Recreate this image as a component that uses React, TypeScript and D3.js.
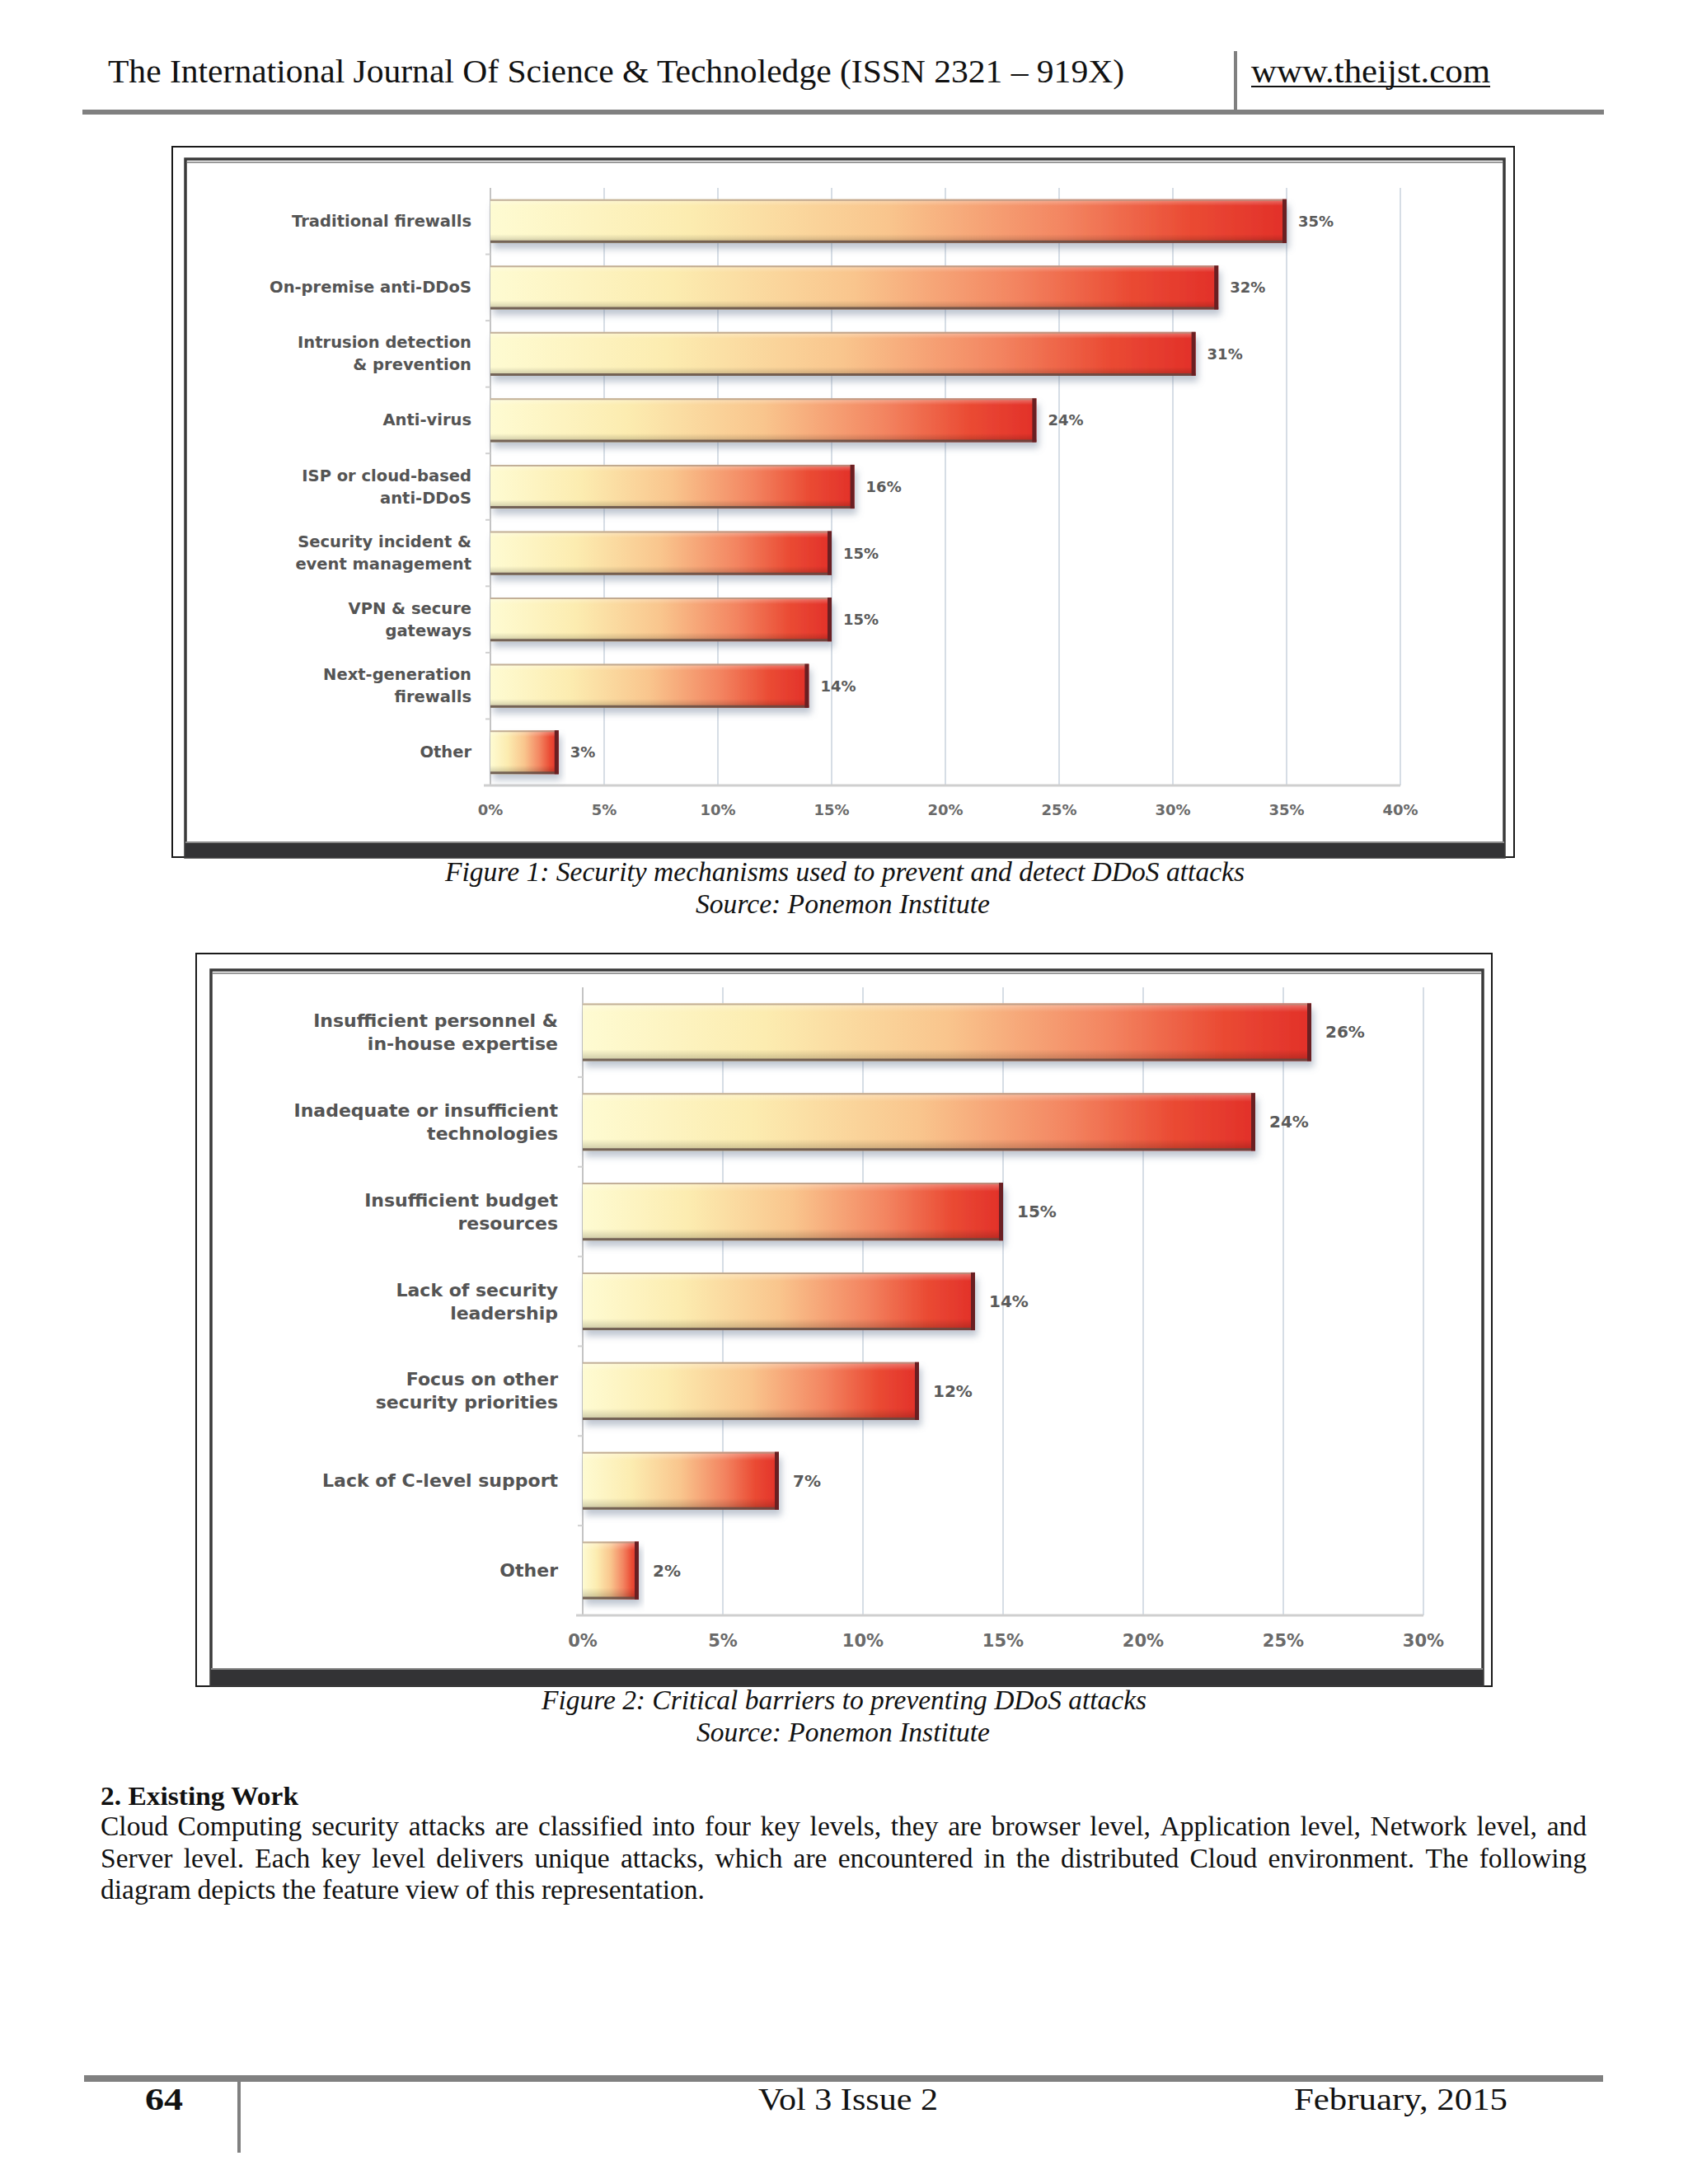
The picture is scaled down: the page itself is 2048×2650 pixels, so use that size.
import React from "react";
import * as d3 from "d3";

// ---------- data ----------
const fig1Categories = [
  "Traditional firewalls",
  "On-premise anti-DDoS",
  "Intrusion detection\n& prevention",
  "Anti-virus",
  "ISP or cloud-based\nanti-DDoS",
  "Security incident &\nevent management",
  "VPN & secure\ngateways",
  "Next-generation\nfirewalls",
  "Other",
];
const fig1Values = [35, 32, 31, 24, 16, 15, 15, 14, 3];
const fig1Ticks = [0, 5, 10, 15, 20, 25, 30, 35, 40];

const fig2Categories = [
  "Insufficient personnel &\nin-house expertise",
  "Inadequate or insufficient\ntechnologies",
  "Insufficient budget\nresources",
  "Lack of security\nleadership",
  "Focus on other\nsecurity priorities",
  "Lack of C-level support",
  "Other",
];
const fig2Values = [26, 24, 15, 14, 12, 7, 2];
const fig2Ticks = [0, 5, 10, 15, 20, 25, 30];

const headerTitle = "The International Journal Of Science & Technoledge  (ISSN  2321 \u2013 919X)";
const headerUrl = "www.theijst.com";
const caption1 = "Figure 1: Security mechanisms used to prevent and detect DDoS attacks";
const caption2 = "Figure 2: Critical barriers to preventing DDoS attacks";
const sourceText = "Source: Ponemon Institute";
const sectionHeading = "2. Existing Work";
const paragraphLines = [
  "Cloud Computing security attacks are classified into four key levels, they are browser level, Application level, Network level, and",
  "Server level. Each key level delivers unique attacks, which are encountered in the distributed Cloud environment. The following",
  "diagram depicts the feature view of this representation.",
];
const footerPage = "64";
const footerIssue = "Vol 3  Issue 2";
const footerDate = "February, 2015";

const SERIF = "'Liberation Serif', 'Times New Roman', serif";

let measureCtx: CanvasRenderingContext2D | null = null;
function measure(text: string, font: string, size: number): number {
  try {
    if (!measureCtx && typeof document !== "undefined") {
      measureCtx = document.createElement("canvas").getContext("2d");
    }
    if (measureCtx) {
      measureCtx.font = `${size}px ${font}`;
      return measureCtx.measureText(text).width;
    }
  } catch (e) {
    /* ignore */
  }
  return text.length * size * 0.44;
}

function JustifiedLine(props: { text: string; x: number; y: number; width: number; size: number }) {
  const words = props.text.split(" ");
  const widths = words.map((w) => measure(w, SERIF, props.size));
  const total = widths.reduce((a, b) => a + b, 0);
  const gap = words.length > 1 ? (props.width - total) / (words.length - 1) : 0;
  let cx = props.x;
  const xs = widths.map((w) => {
    const v = cx;
    cx += w + gap;
    return v;
  });
  return (
    <text y={props.y} fontFamily={SERIF} fontSize={props.size} fill="#111">
      {words.map((w, i) => (
        <tspan key={i} x={xs[i]}>
          {w}
        </tspan>
      ))}
    </text>
  );
}

type ChartProps = {
  id: string;
  cats: string[];
  vals: number[];
  ticks: number[];
  xMax: number;
  xRange: [number, number];
  yRange: [number, number];
  padIn: number;
  padOut: number;
  labelRight: number;
  labelSize: number;
  lineH: number;
  valueSize: number;
  valueGap: number;
  tickSize: number;
  tickY: number;
};

function BarChart(p: ChartProps) {
  const x = d3.scaleLinear().domain([0, p.xMax]).range(p.xRange);
  const y = d3
    .scaleBand<string>()
    .domain(p.cats)
    .range(p.yRange)
    .paddingInner(p.padIn)
    .paddingOuter(p.padOut);
  const bw = y.bandwidth();
  const font = "'DejaVu Sans', sans-serif";
  return (
    <g>
      <defs>
        <linearGradient id={`${p.id}-grad`} x1="0" y1="0" x2="1" y2="0">
          <stop offset="0" stopColor="#fefbd2" />
          <stop offset="0.25" stopColor="#fcecb0" />
          <stop offset="0.5" stopColor="#f9c58d" />
          <stop offset="0.72" stopColor="#f38561" />
          <stop offset="0.88" stopColor="#ea4a33" />
          <stop offset="1" stopColor="#e2302a" />
        </linearGradient>
        <linearGradient id={`${p.id}-shade`} x1="0" y1="0" x2="0" y2="1">
          <stop offset="0" stopColor="#fff" stopOpacity="0.35" />
          <stop offset="0.15" stopColor="#fff" stopOpacity="0" />
          <stop offset="0.8" stopColor="#000" stopOpacity="0" />
          <stop offset="1" stopColor="#000" stopOpacity="0.22" />
        </linearGradient>
        <filter id={`${p.id}-sh`} x="-5%" y="-30%" width="115%" height="190%">
          <feGaussianBlur in="SourceAlpha" stdDeviation="4" />
          <feOffset dx="3" dy="7" result="o" />
          <feFlood floodColor="#708098" floodOpacity="0.45" />
          <feComposite in2="o" operator="in" />
          <feMerge>
            <feMergeNode />
            <feMergeNode in="SourceGraphic" />
          </feMerge>
        </filter>
      </defs>
      {p.ticks.map((t) => (
        <line
          key={`g${t}`}
          x1={x(t)}
          x2={x(t)}
          y1={p.yRange[0]}
          y2={p.yRange[1]}
          stroke={t === 0 ? "#c4c4c4" : "#d6dde5"}
          strokeWidth={2}
        />
      ))}
      {p.cats.map((c, i) => {
        const yy = (y(c) as number) - (y.step() - bw) / 2;
        return i === 0 ? null : (
          <line key={`yt${i}`} x1={x(0) - 6} x2={x(0)} y1={yy} y2={yy} stroke="#d0d0d0" strokeWidth={2} />
        );
      })}
      <line x1={x(0) - 8} x2={x(p.xMax)} y1={p.yRange[1]} y2={p.yRange[1]} stroke="#cfcfcf" strokeWidth={3} />
      {p.cats.map((c, i) => {
        const y0 = y(c) as number;
        const x0 = x(0);
        const w = x(p.vals[i]) - x0;
        return (
          <g key={`b${i}`}>
            <rect x={x0} y={y0} width={w} height={bw} fill={`url(#${p.id}-grad)`} filter={`url(#${p.id}-sh)`} />
            <rect x={x0} y={y0} width={w} height={bw} fill={`url(#${p.id}-shade)`} />
            <line x1={x0} x2={x0 + w} y1={y0 + 1} y2={y0 + 1} stroke="#a8907c" strokeOpacity={0.7} strokeWidth={2} />
            <line x1={x0} x2={x0 + w} y1={y0 + bw - 1.5} y2={y0 + bw - 1.5} stroke="#5e4a44" strokeOpacity={0.8} strokeWidth={3} />
            <rect x={x0 + w - 5} y={y0} width={5} height={bw} fill="#6a1f22" />
            <text
              x={x0 + w + p.valueGap}
              y={y0 + bw / 2}
              dominantBaseline="central"
              fontFamily={font}
              fontWeight="bold"
              fontSize={p.valueSize}
              fill="#5a5a5a"
            >
              {`${p.vals[i]}%`}
            </text>
          </g>
        );
      })}
      {p.cats.map((c, i) => {
        const lines = c.split("\n");
        const cy = (y(c) as number) + bw / 2;
        const top = cy - ((lines.length - 1) * p.lineH) / 2;
        return (
          <text key={`l${i}`} textAnchor="end" fontFamily={font} fontWeight="bold" fontSize={p.labelSize} fill="#545454">
            {lines.map((ln, j) => (
              <tspan key={j} x={p.labelRight} y={top + j * p.lineH} dominantBaseline="central">
                {ln}
              </tspan>
            ))}
          </text>
        );
      })}
      {p.ticks.map((t) => (
        <text
          key={`t${t}`}
          x={x(t)}
          y={p.tickY}
          textAnchor="middle"
          fontFamily={font}
          fontWeight="bold"
          fontSize={p.tickSize}
          fill="#6a6a6a"
        >
          {`${t}%`}
        </text>
      ))}
    </g>
  );
}

function Frame(props: {
  outer: [number, number, number, number];
  inner: [number, number, number, number];
  bandTop: number;
}) {
  const [ox1, oy1, ox2, oy2] = props.outer;
  const [ix1, iy1, ix2, iy2] = props.inner;
  return (
    <g>
      <rect x={ox1} y={oy1} width={ox2 - ox1} height={oy2 - oy1} fill="#fff" stroke="#1a1a1a" strokeWidth={2} />
      <rect x={ix1} y={iy1} width={ix2 - ix1} height={iy2 - iy1} fill="#fff" stroke="#3a3a3a" strokeWidth={3.5} />
      <line x1={ix1 + 2} x2={ix2 - 2} y1={iy1 + 4} y2={iy1 + 4} stroke="#9a9a9a" strokeWidth={2} />
      <rect x={ix1} y={props.bandTop} width={ix2 - ix1} height={iy2 - props.bandTop} fill="#333335" />
      <line x1={ix1} x2={ix2} y1={props.bandTop} y2={props.bandTop} stroke="#8a8a8a" strokeWidth={2} />
    </g>
  );
}

export default function App() {
  const paraWidths = [1803, 1803, 733];
  return (
    <svg
      width={2048}
      height={2650}
      viewBox="0 0 2048 2650"
      style={{ position: "absolute", left: 0, top: 0, background: "#fff" }}
    >
      <rect x={0} y={0} width={2048} height={2650} fill="#fff" />

      {/* header */}
      <text x={131} y={100} fontFamily={SERIF} fontSize={41} fill="#111" textLength={1233} lengthAdjust="spacingAndGlyphs">
        {headerTitle}
      </text>
      <text x={1518} y={100} fontFamily={SERIF} fontSize={41} fill="#111" textLength={290} lengthAdjust="spacingAndGlyphs">
        {headerUrl}
      </text>
      <line x1={1518} x2={1808} y1={105} y2={105} stroke="#111" strokeWidth={2} />
      <line x1={1499} x2={1499} y1={62} y2={133} stroke="#808080" strokeWidth={4} />
      <rect x={100} y={133} width={1846} height={6} fill="#808080" />

      {/* figure 1 */}
      <Frame outer={[209, 178, 1837, 1040]} inner={[225, 193, 1825, 1040]} bandTop={1022} />
      <BarChart
        id="f1"
        cats={fig1Categories}
        vals={fig1Values}
        ticks={fig1Ticks}
        xMax={40}
        xRange={[595, 1699]}
        yRange={[228, 953]}
        padIn={0.34}
        padOut={0.17}
        labelRight={572}
        labelSize={19.5}
        lineH={27}
        valueSize={18}
        valueGap={14}
        tickSize={18}
        tickY={989}
      />
      <text x={540} y={1069} fontFamily={SERIF} fontStyle="italic" fontSize={33} fill="#111" textLength={970} lengthAdjust="spacingAndGlyphs">
        {caption1}
      </text>
      <text x={844} y={1108} fontFamily={SERIF} fontStyle="italic" fontSize={33} fill="#111" textLength={357} lengthAdjust="spacingAndGlyphs">
        {sourceText}
      </text>

      {/* figure 2 */}
      <Frame outer={[238, 1157, 1810, 2046]} inner={[256, 1177, 1799, 2045]} bandTop={2025} />
      <BarChart
        id="f2"
        cats={fig2Categories}
        vals={fig2Values}
        ticks={fig2Ticks}
        xMax={30}
        xRange={[707, 1727]}
        yRange={[1198, 1960]}
        padIn={0.356}
        padOut={0.178}
        labelRight={677}
        labelSize={22}
        lineH={28}
        valueSize={20}
        valueGap={17}
        tickSize={21}
        tickY={1998}
      />
      <text x={657} y={2074} fontFamily={SERIF} fontStyle="italic" fontSize={33} fill="#111" textLength={734} lengthAdjust="spacingAndGlyphs">
        {caption2}
      </text>
      <text x={845} y={2113} fontFamily={SERIF} fontStyle="italic" fontSize={33} fill="#111" textLength={356} lengthAdjust="spacingAndGlyphs">
        {sourceText}
      </text>

      {/* section text */}
      <text x={122} y={2190} fontFamily={SERIF} fontWeight="bold" fontSize={32} fill="#111" textLength={240} lengthAdjust="spacingAndGlyphs">
        {sectionHeading}
      </text>
      {paragraphLines.map((ln, i) => (
        <JustifiedLine key={i} text={ln} x={122} y={2227 + i * 38.5} width={paraWidths[i]} size={33.5} />
      ))}

      {/* footer */}
      <rect x={102} y={2518} width={1843} height={8} fill="#808080" />
      <line x1={290} x2={290} y1={2526} y2={2612} stroke="#808080" strokeWidth={4} />
      <text x={176} y={2560} fontFamily={SERIF} fontWeight="bold" fontSize={38} fill="#111" textLength={46} lengthAdjust="spacingAndGlyphs">
        {footerPage}
      </text>
      <text x={920} y={2560} fontFamily={SERIF} fontSize={38} fill="#111" textLength={218} lengthAdjust="spacingAndGlyphs">
        {footerIssue}
      </text>
      <text x={1570} y={2560} fontFamily={SERIF} fontSize={38} fill="#111" textLength={259} lengthAdjust="spacingAndGlyphs">
        {footerDate}
      </text>
    </svg>
  );
}
